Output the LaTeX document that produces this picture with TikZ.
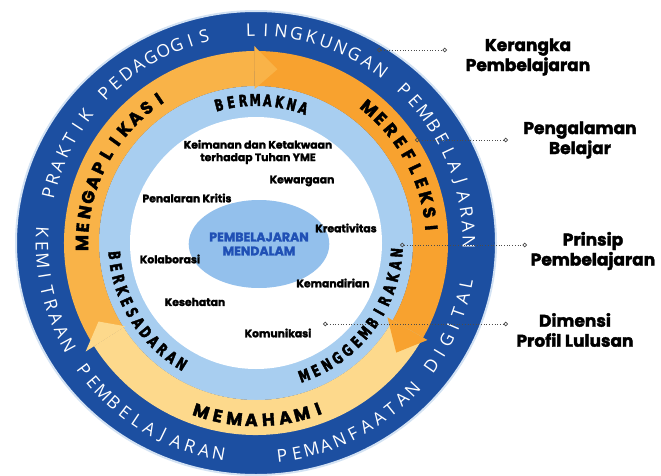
\documentclass[tikz,border=0pt]{standalone}
\usepackage{fontspec}
\setmainfont{Poppins}
\newfontfamily\heavysans[BoldFeatures={FakeBold=2}]{Poppins}
\newfontfamily\thinsans{Open Sans}
\newfontfamily\narrowsans[FakeStretch=0.7,BoldFeatures={FakeBold=2.5}]{DejaVu Sans}
\usetikzlibrary{arrows.meta,shapes.geometric}

\definecolor{ringblue}{HTML}{1C4FA1}
\definecolor{ringedge}{HTML}{D3E2F3}
\definecolor{paleblue}{HTML}{A8CEF0}
\definecolor{hubblue}{HTML}{93C0EC}
\definecolor{hubtext}{HTML}{2050B5}
\definecolor{amber}{HTML}{F9B348}
\definecolor{deepamber}{HTML}{F8A22F}
\definecolor{cream}{HTML}{FDD98C}

\tikzset{
  outerletter/.style={text=white, inner sep=0pt, font=\thinsans\fontsize{17.5}{17.5}\selectfont},
  arrowletter/.style={text=black, inner sep=0pt, font=\heavysans\bfseries\fontsize{17.5}{17.5}\selectfont},
  bandletter/.style={text=black, inner sep=0pt, font=\narrowsans\bfseries\fontsize{16}{16}\selectfont},
  trait/.style={font=\heavysans\bfseries\fontsize{10.8}{12.5}\selectfont, align=center, inner sep=1pt},
  sidetag/.style={font=\heavysans\bfseries\fontsize{17}{20}\selectfont, align=center},
  leader/.style={draw=black!70, dotted, line width=0.7, {Circle[open,length=4.5pt]}-{Circle[open,length=4.5pt]}}
}

% letters round a ring: style, name, radius, first angle, step, letters
\newcommand{\ringword}[6]{%
  \foreach \ch [count=\i from 0] in {#6}
    \node[#1, rotate={#4+\i*(#5)+90*sign(#5)}] (#2\i) at ({#4+\i*(#5)}:#3) {\ch};
}

\begin{document}
\begin{tikzpicture}[x=1pt,y=1pt]
	\useasboundingbox (0,0) rectangle (661,475);

	\begin{scope}[shift={(256,232)}]
		% rings
		\fill[ringblue, draw=ringedge, line width=2] (0,0) ellipse [x radius=240, y radius=232];
		\fill[paleblue] (0,0) circle (157);
		\fill[white] (0,0) circle (126);

		% arrow bodies
		\fill[amber] (212.5:192) arc (212.5:90.5:192) -- (90.5:157) arc (90.5:212.5:157) -- cycle;
		\fill[deepamber] (90.5:192) arc (90.5:-29.5:192) -- (-29.5:157) arc (-29.5:90.5:157) -- cycle;
		\fill[cream] (-29.5:192) arc (-29.5:-147.5:192) -- (-147.5:157) arc (-147.5:-29.5:157) -- cycle;
		% arrow heads
		\fill[amber] (90.5:197) -- (83:175) -- (90.5:154) -- cycle;
		\fill[deepamber] (-29.5:197) -- (-38:178) -- (-29.5:151) -- cycle;
		\fill[cream] (212.5:202) -- (206.5:176) -- (212.5:155) -- cycle;

		% outer ring words
		\ringword{outerletter}{prak}{213}{166.5}{-3.9}{P,R,A,K,T,I,K,,P,E,D,A,G,O,G,I,S}
		\ringword{outerletter}{ling}{213}{91.5}{-4.15}{L,I,N,G,K,U,N,G,A,N,,P,E,M,B,E,L,A,J,A,R,A,N}
		\ringword{outerletter}{kemi}{214}{177}{3.95}{K,E,M,I,T,R,A,A,N,,P,E,M,B,E,L,A,J,A,R,A,N}
		\ringword{outerletter}{digi}{214}{277}{4}{P,E,M,A,N,F,A,A,T,A,N,,D,I,G,I,T,A,L}

		% arrow ring words
		\ringword{arrowletter}{apli}{174}{180}{-5.1}{M,E,N,G,A,P,L,I,K,A,S,I}
		\ringword{arrowletter}{refl}{176}{50}{-5}{M,E,R,E,F,L,E,K,S,I}
		\ringword{arrowletter}{paha}{177}{252}{5.5}{M,E,M,A,H,A,M,I}

		% pale band words
		\ringword{bandletter}{makn}{143}{105}{-4.9}{B,E,R,M,A,K,N,A}
		\ringword{bandletter}{sadr}{142}{185}{4.85}{B,E,R,K,E,S,A,D,A,R,A,N}
		\ringword{bandletter}{gemb}{141}{290}{5.08}{M,E,N,G,G,E,M,B,I,R,A,K,A,N}

		% centre
		\node[ellipse, fill=hubblue, minimum width=102, minimum height=88, inner sep=0pt,
			text=hubtext, align=center, font=\heavysans\bfseries\fontsize{12.5}{14}\selectfont] (hub) at (3,-1)
			{PEMBELAJARAN\\MENDALAM};

		% graduate profile
		\node[trait] (iman) at (2,91) {Keimanan dan Ketakwaan\\terhadap Tuhan YME};
		\node[trait] (warga) at (46,62) {Kewargaan};
		\node[trait] (nalar) at (-69,45) {Penalaran Kritis};
		\node[trait] (kreatif) at (90,15) {Kreativitas};
		\node[trait] (kolab) at (-86,-16) {Kolaborasi};
		\node[trait] (mandiri) at (77,-40) {Kemandirian};
		\node[trait] (sehat) at (-61,-59) {Kesehatan};
		\node[trait] (komun) at (22,-90) {Komunikasi};
	\end{scope}

	% side labels
	\node[sidetag] (kerangka) at (528,418) {Kerangka\\Pembelajaran};
	\node[sidetag] (pengalaman) at (580,335) {Pengalaman\\Belajar};
	\node[sidetag] (prinsip) at (593,224) {Prinsip\\Pembelajaran};
	\node[sidetag] (dimensi) at (575,145) {Dimensi\\Profil Lulusan};

	\coordinate (k1) at (377,425);
	\coordinate (k2) at (447,425);
	\coordinate (p1) at (415,335);
	\coordinate (p2) at (508,335);
	\coordinate (r1) at (400,230);
	\coordinate (r2) at (527,230);
	\coordinate (d1) at (323,151);
	\coordinate (d2) at (508,151);
	\draw[leader] (k1) -- (k2);
	\draw[leader] (p1) -- (p2);
	\draw[leader] (r1) -- (r2);
	\draw[leader] (d1) -- (d2);
\end{tikzpicture}
\end{document}
